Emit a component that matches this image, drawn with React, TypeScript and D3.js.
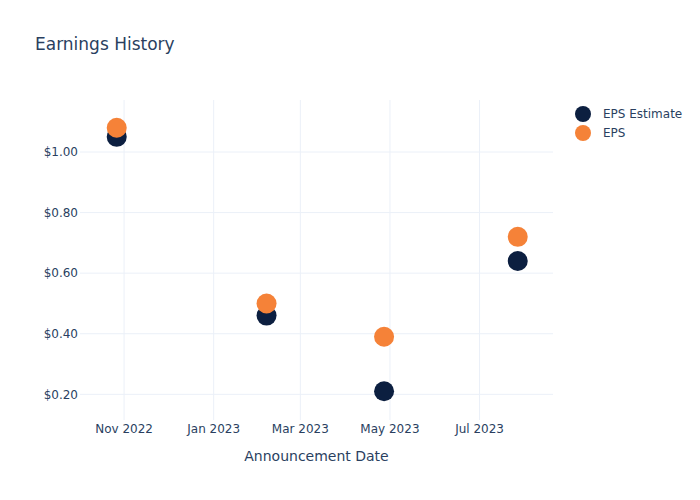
import React from "react";
import * as d3 from "d3";

const dates = ["2022-10-27", "2023-02-06", "2023-04-27", "2023-07-27"];
const epsEstimate = [1.05, 0.46, 0.21, 0.64];
const epsActual = [1.08, 0.5, 0.39, 0.72];
const yTicks = [0.2, 0.4, 0.6, 0.8, 1.0];
const xTickDates = ["2022-11-01", "2023-01-01", "2023-03-01", "2023-05-01", "2023-07-01"];
const seriesNames = ["EPS Estimate", "EPS"];
const seriesColors = ["#0c1f40", "#f58238"];

const W = 700, H = 500;
const L = 80, R = 553, T = 100, B = 420;
const FONT = "'DejaVu Sans', verdana, arial, sans-serif";
const TXT = "#2a3f5f";

export default function App() {
  const parse = d3.utcParse("%Y-%m-%d");
  const x = d3.scaleUtc().domain([parse("2022-10-02")!, parse("2023-08-20")!]).range([L, R]);
  const y = d3.scaleLinear().domain([0.1152, 1.1717]).range([B, T]);
  const fmtX = d3.utcFormat("%b %Y");
  const series = [epsEstimate, epsActual];
  return (
    <svg width={W} height={H} style={{ position: "absolute", left: 0, top: 0, background: "#fff" }} fontFamily={FONT}>
      <rect x={0} y={0} width={W} height={H} fill="#fff" />
      {xTickDates.map((d) => {
        const px = x(parse(d)!);
        return (
          <g key={d}>
            <line x1={px} x2={px} y1={T} y2={B} stroke="#ebf0f8" strokeWidth={1} />
            <text x={px} y={433} textAnchor="middle" fontSize={12} fill={TXT}>{fmtX(parse(d)!)}</text>
          </g>
        );
      })}
      {yTicks.map((v) => (
        <g key={v}>
          <line x1={L} x2={R} y1={y(v)} y2={y(v)} stroke="#ebf0f8" strokeWidth={1} />
          <text x={78} y={y(v)} dy="0.35em" textAnchor="end" fontSize={12} fill={TXT}>{d3.format("$.2f")(v)}</text>
        </g>
      ))}
      {series.map((vals, si) => (
        <g key={si}>
          {vals.map((v, i) => (
            <circle key={i} cx={x(parse(dates[i])!)} cy={y(v)} r={10} fill={seriesColors[si]} />
          ))}
        </g>
      ))}
      <text x={35} y={50} fontSize={17} fill={TXT}>Earnings History</text>
      <text x={(L + R) / 2} y={461} textAnchor="middle" fontSize={14} fill={TXT}>Announcement Date</text>
      {seriesNames.map((n, i) => (
        <g key={n} transform={`translate(583,${114 + i * 19})`}>
          <circle cx={0} cy={0} r={8} fill={seriesColors[i]} />
          <text x={20} y={0} dy="0.35em" fontSize={12} fill={TXT}>{n}</text>
        </g>
      ))}
    </svg>
  );
}
